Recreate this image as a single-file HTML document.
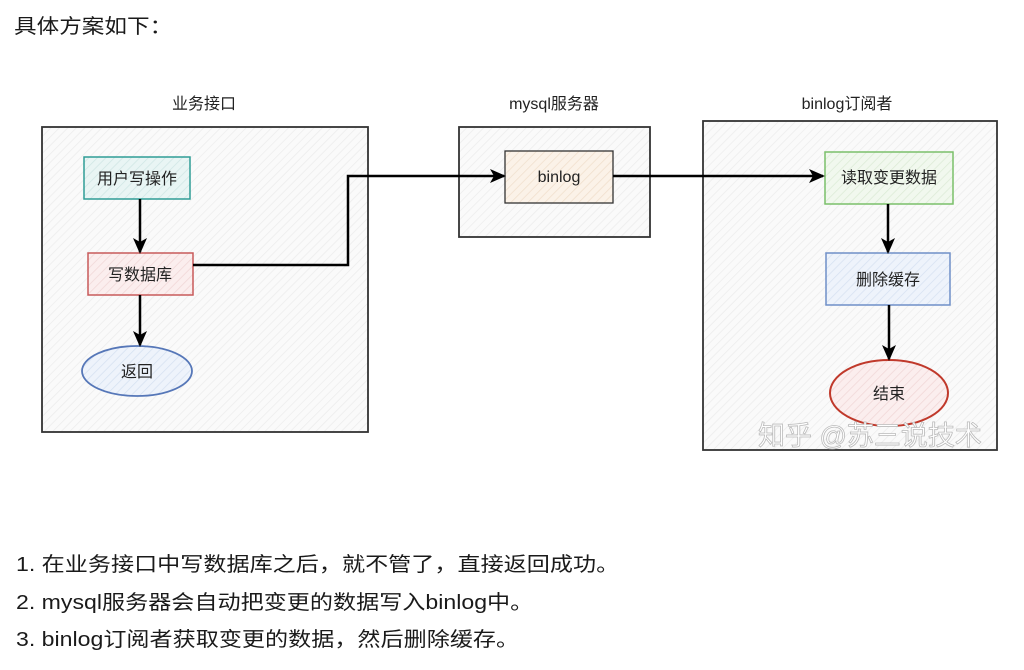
<!DOCTYPE html>
<html><head><meta charset="utf-8"><style>
body{margin:0;width:1024px;height:670px;background:#fff;font-family:"Liberation Sans","Noto Sans CJK SC",sans-serif;color:#1a1a1a;position:relative;overflow:hidden}
.t{position:absolute;font-size:20px;white-space:nowrap;transform:scaleX(1.155);transform-origin:0 0}
svg{position:absolute;left:0;top:0}
</style></head><body>
<div class="t" style="left:14px;top:10px;font-size:20px;transform:scaleX(1.13)">具体方案如下：</div>
<svg width="1024" height="670" font-family="Liberation Sans, Noto Sans CJK SC, sans-serif">
<defs>
<pattern id="h" width="6" height="6" patternUnits="userSpaceOnUse" patternTransform="rotate(45)"><rect width="6" height="6" fill="#fafafa"/><line x1="0" y1="0" x2="0" y2="6" stroke="#ececec" stroke-width="1.5"/></pattern>
<pattern id="hg" width="6" height="6" patternUnits="userSpaceOnUse" patternTransform="rotate(45)"><rect width="6" height="6" fill="#e9f5f4"/><line x1="0" y1="0" x2="0" y2="6" stroke="#cfe6e4" stroke-width="1.5"/></pattern>
<pattern id="hr" width="6" height="6" patternUnits="userSpaceOnUse" patternTransform="rotate(45)"><rect width="6" height="6" fill="#fbeeee"/><line x1="0" y1="0" x2="0" y2="6" stroke="#f0d6d6" stroke-width="1.5"/></pattern>
<pattern id="hb" width="6" height="6" patternUnits="userSpaceOnUse" patternTransform="rotate(45)"><rect width="6" height="6" fill="#eef3fb"/><line x1="0" y1="0" x2="0" y2="6" stroke="#d6e1f1" stroke-width="1.5"/></pattern>
<pattern id="ho" width="6" height="6" patternUnits="userSpaceOnUse" patternTransform="rotate(45)"><rect width="6" height="6" fill="#fbf2e8"/><line x1="0" y1="0" x2="0" y2="6" stroke="#f0dfcc" stroke-width="1.5"/></pattern>
<pattern id="hgr" width="6" height="6" patternUnits="userSpaceOnUse" patternTransform="rotate(45)"><rect width="6" height="6" fill="#f1f8ee"/><line x1="0" y1="0" x2="0" y2="6" stroke="#dcebd6" stroke-width="1.5"/></pattern>
<marker id="a" markerWidth="16" markerHeight="16" refX="14" refY="7" orient="auto" markerUnits="userSpaceOnUse" viewBox="0 0 16 14"><path d="M0,0 L16,7 L0,14 L4,7z" fill="#000"/></marker>
</defs>
<g font-size="16" text-anchor="middle" fill="#222">
<text x="204" y="109">业务接口</text>
<text x="554" y="109">mysql服务器</text>
<text x="847" y="109">binlog订阅者</text>
</g>
<rect x="42" y="127" width="326" height="305" fill="url(#h)" stroke="#333" stroke-width="1.8"/>
<rect x="459" y="127" width="191" height="110" fill="url(#h)" stroke="#333" stroke-width="1.8"/>
<rect x="703" y="121" width="294" height="329" fill="url(#h)" stroke="#333" stroke-width="1.8"/>
<rect x="84" y="157" width="106" height="42" fill="url(#hg)" stroke="#2f9d96" stroke-width="1.5"/>
<rect x="88" y="253" width="105" height="42" fill="url(#hr)" stroke="#c85a5a" stroke-width="1.5"/>
<ellipse cx="137" cy="371" rx="55" ry="25" fill="url(#hb)" stroke="#5677b8" stroke-width="1.8"/>
<rect x="505" y="151" width="108" height="52" fill="url(#ho)" stroke="#333" stroke-width="1.3"/>
<rect x="825" y="152" width="128" height="52" fill="url(#hgr)" stroke="#7bc06a" stroke-width="1.5"/>
<rect x="826" y="253" width="124" height="52" fill="url(#hb)" stroke="#6f8fc8" stroke-width="1.5"/>
<ellipse cx="889" cy="393" rx="59" ry="33" fill="url(#hr)" stroke="#c0392b" stroke-width="2"/>
<g stroke="#000" stroke-width="2.5" fill="none">
<line x1="140" y1="199" x2="140" y2="252" marker-end="url(#a)"/>
<line x1="140" y1="295" x2="140" y2="345" marker-end="url(#a)"/>
<polyline points="193,265 348,265 348,176 504,176" marker-end="url(#a)"/>
<line x1="613" y1="176" x2="823" y2="176" marker-end="url(#a)"/>
<line x1="888" y1="204" x2="888" y2="252" marker-end="url(#a)"/>
<line x1="889" y1="305" x2="889" y2="359" marker-end="url(#a)"/>
</g>
<g font-size="16" text-anchor="middle" fill="#222">
<text x="137" y="184">用户写操作</text>
<text x="140" y="280">写数据库</text>
<text x="137" y="377">返回</text>
<text x="559" y="182">binlog</text>
<text x="889" y="183">读取变更数据</text>
<text x="888" y="285">删除缓存</text>
<text x="889" y="399">结束</text>
</g>
<text x="758" y="445" font-size="27" fill="#fff" stroke="#bbb" stroke-width="0.8">知乎 @苏三说技术</text>
</svg>
<div class="t" style="left:16px;top:548px">1. 在业务接口中写数据库之后，就不管了，直接返回成功。</div>
<div class="t" style="left:16px;top:586px">2. mysql服务器会自动把变更的数据写入binlog中。</div>
<div class="t" style="left:16px;top:623px">3. binlog订阅者获取变更的数据，然后删除缓存。</div>
</body></html>
